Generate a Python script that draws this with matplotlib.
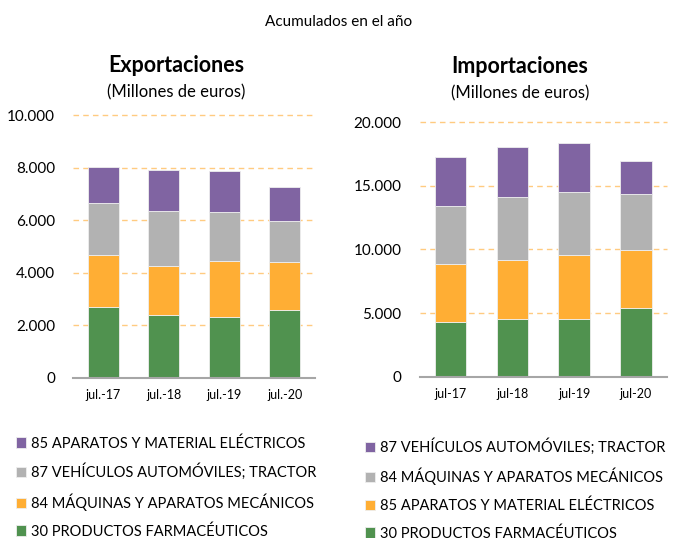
import numpy as np
import matplotlib
matplotlib.use("Agg")
import matplotlib.pyplot as plt

plt.rcParams['font.family'] = ['Lato', 'DejaVu Sans']

# Exportaciones (millones de euros), acumulado en el año
exp_periodos = ['jul.-17', 'jul.-18', 'jul.-19', 'jul.-20']
exp_series = ['30 PRODUCTOS FARMACÉUTICOS', '84 MÁQUINAS Y APARATOS MECÁNICOS',
              '87 VEHÍCULOS AUTOMÓVILES; TRACTOR', '85 APARATOS Y MATERIAL ELÉCTRICOS']
exp_farma = [2690, 2380, 2310, 2590]
exp_maquinas = [2000, 1880, 2140, 1810]
exp_vehiculos = [1960, 2100, 1850, 1560]
exp_electricos = [1370, 1560, 1570, 1320]

# Importaciones
imp_periodos = ['jul-17', 'jul-18', 'jul-19', 'jul-20']
imp_series = ['30 PRODUCTOS FARMACÉUTICOS', '85 APARATOS Y MATERIAL ELÉCTRICOS',
              '84 MÁQUINAS Y APARATOS MECÁNICOS', '87 VEHÍCULOS AUTOMÓVILES; TRACTOR']
imp_farma = [4340, 4520, 4520, 5440]
imp_electricos = [4550, 4650, 5050, 4550]
imp_maquinas = [4520, 4940, 4940, 4340]
imp_vehiculos = [3810, 3900, 3820, 2590]

colors = ['#50924F', '#FFAE34', '#B2B2B2', '#8064A2']
grid_color = '#FFCB80'

fig = plt.figure(figsize=(6.77, 5.38), dpi=100)
ax1 = fig.add_axes([0.108, 0.2974, 0.357, 0.4888])
ax2 = fig.add_axes([0.620, 0.2993, 0.365, 0.4739])


def stacked(ax, periodos, series, labels, ymax, step):
    x = np.arange(len(periodos))
    bottom = np.zeros(len(periodos))
    handles = []
    for vals, lab, col in zip(series, labels, colors):
        b = ax.bar(x, vals, 0.51, bottom=bottom, color=col, label=lab,
                   edgecolor='#EEEEEE', linewidth=0.6, zorder=3)
        bottom += np.array(vals)
        handles.append(b)
    ax.set_xlim(-0.5, len(periodos) - 0.5)
    ax.set_ylim(0, ymax)
    ticks = np.arange(0, ymax + 1, step)
    ax.set_yticks(ticks)
    ax.set_yticklabels([f'{t:,.0f}'.replace(',', '.') for t in ticks], fontsize=11)
    for t in ticks[1:]:
        ax.axhline(t, color=grid_color, linestyle=(0, (4, 3)), linewidth=1,
                   zorder=1, clip_on=False)
    ax.set_xticks(x)
    ax.set_xticklabels(periodos, fontsize=9)
    ax.tick_params(axis='y', length=0, pad=13)
    ax.tick_params(axis='x', length=0, pad=8)
    for s in ['top', 'right', 'left']:
        ax.spines[s].set_visible(False)
    ax.spines['bottom'].set_color('#A6A6A6')
    ax.spines['bottom'].set_linewidth(1.5)
    ax.spines['bottom'].set_zorder(4)
    return handles


h1 = stacked(ax1, exp_periodos, [exp_farma, exp_maquinas, exp_vehiculos, exp_electricos],
             exp_series, 10000, 2000)
h2 = stacked(ax2, imp_periodos, [imp_farma, imp_electricos, imp_maquinas, imp_vehiculos],
             imp_series, 20000, 5000)

fig.text(0.5, 1 - 22 / 538, 'Acumulados en el año', ha='center', va='center', fontsize=11)
fig.text(176 / 677, 1 - 65 / 538, 'Exportaciones', ha='center', va='center',
         fontsize=15.5, fontweight='bold')
fig.text(176 / 677, 1 - 92 / 538, '(Millones de euros)', ha='center', va='center', fontsize=12)
fig.text(520 / 677, 1 - 66 / 538, 'Importaciones', ha='center', va='center',
         fontsize=15.5, fontweight='bold')
fig.text(520 / 677, 1 - 93 / 538, '(Millones de euros)', ha='center', va='center', fontsize=12)

fig.legend(h1[::-1], exp_series[::-1], loc='upper left',
           bbox_to_anchor=(3 / 677, 1 - 423 / 538), frameon=False, fontsize=10.5,
           handlelength=0.7, handleheight=0.7, handletextpad=0.3, labelspacing=0.9)
fig.legend(h2[::-1], imp_series[::-1], loc='upper left',
           bbox_to_anchor=(352 / 677, 1 - 425 / 538), frameon=False, fontsize=10.5,
           handlelength=0.7, handleheight=0.7, handletextpad=0.3, labelspacing=0.9)

fig.savefig('out.png', dpi=100)
